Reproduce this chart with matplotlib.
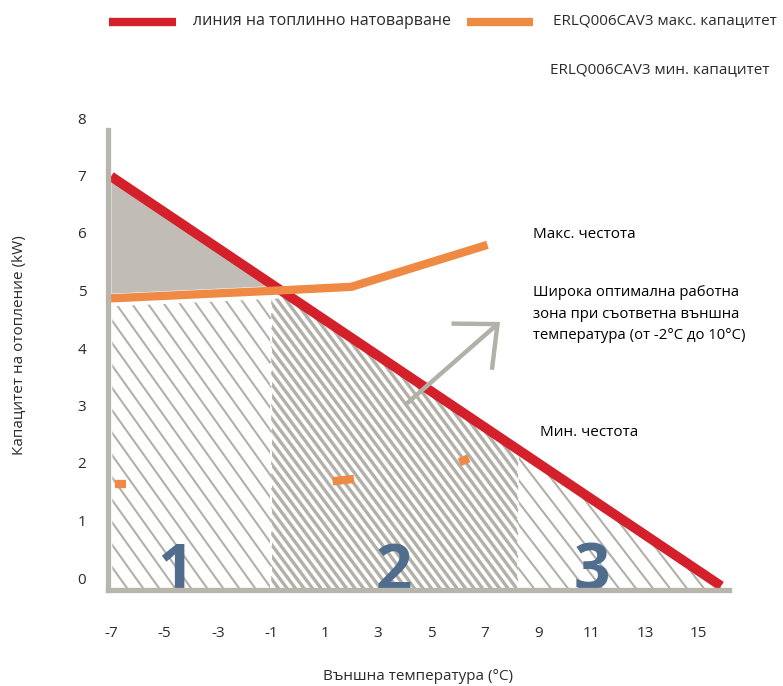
import matplotlib
matplotlib.use("Agg")
import matplotlib.pyplot as plt
import numpy as np
from matplotlib.patches import FancyArrowPatch, Polygon
from matplotlib.lines import Line2D
from matplotlib.collections import LineCollection

plt.rcParams['font.family'] = ['Open Sans', 'DejaVu Sans']

# ---- data ----
load_x = [-7, 15.85]
load_y = [7.02, -0.1]
max_x = [-7, -1, 2, 7.1]
max_y = [4.9, 5.03, 5.1, 5.83]
min_segments_x = [[-6.85, -6.45], [1.3, 2.1], [6.05, 6.4]]
min_segments_y = [[1.68, 1.68], [1.72, 1.76], [2.05, 2.12]]
zone_bounds = [-7, -1, 8.25, 16]
zone_labels = ["1", "2", "3"]
zone_label_x = [-4.6, 3.6, 11.0]
xticks = [-7, -5, -3, -1, 1, 3, 5, 7, 9, 11, 13, 15]
yticks = [0, 1, 2, 3, 4, 5, 6, 7, 8]
legend_labels = ["линия на топлинно натоварване",
                 "ERLQ006CAV3 макс. капацитет",
                 "ERLQ006CAV3 мин. капацитет"]
xlabel = "Външна температура (°C)"
ylabel = "Капацитет на отопление (kW)"
ann_max = "Макс. честота"
ann_min = "Мин. честота"
ann_zone = "Широка оптимална работна\nзона при съответна външна\nтемпература (от -2°C до 10°C)"

RED = "#d4202a"
ORANGE = "#ef8a44"
GRAY = "#b8b5ad"
FILLGRAY = "#c1bcb5"
HATCH = "#b3b0a7"
BLUE = "#506d8e"
TXT = "#2b2b2b"

W, H = 783, 686
PX_X, PX_Y = 26.7, 57.5
fig = plt.figure(figsize=(W / 100, H / 100), dpi=100)
x0, x1 = -7.1, 16.3
y0, y1 = -0.17, 8.0
left_px = 111 - (-7 - x0) * PX_X
right_px = 111 + (x1 + 7) * PX_X
ax = fig.add_axes([left_px / W, 1 - 590 / H, (right_px - left_px) / W, (590 - 120) / H])
ax.set_xlim(x0, x1)
ax.set_ylim(y0, y1)

def red_at(x):
    return np.interp(x, load_x, load_y)

def max_at(x):
    return np.interp(x, max_x, max_y)

# gray triangle between load line and max capacity
xs = np.linspace(-7, -1, 200)
top = red_at(xs)
bot = max_at(xs) + 0.09
mask = top > bot
ax.fill_between(xs[mask], bot[mask], top[mask], color=FILLGRAY, lw=0, zorder=1)

def hatch_region(xs, tops, spacing_px, lw, slope_px=1.4):
    verts = [(xs[0], y0)] + list(zip(xs, tops)) + [(xs[-1], y0)]
    poly = Polygon(verts, closed=True, facecolor="none", edgecolor="none")
    ax.add_patch(poly)
    slope = -slope_px * PX_X / PX_Y  # data units
    step = spacing_px / PX_X
    ymax = max(tops) + 0.5
    span = (ymax - y0) / (-slope)
    starts = np.arange(xs[0] - span - step, xs[-1] + step, step)
    segs = []
    for s in starts:
        segs.append([(s, ymax), (s + (y0 - ymax) / slope, y0)])
    lc = LineCollection(segs, colors=HATCH, linewidths=lw, zorder=1)
    lc.set_clip_path(poly)
    ax.add_collection(lc)

xs1 = np.linspace(zone_bounds[0] + 0.05, zone_bounds[1], 50)
hatch_region(xs1, np.minimum(max_at(xs1) - 0.14, red_at(xs1)), 16, 1.5)
xs2 = np.linspace(zone_bounds[1], zone_bounds[2], 100)
hatch_region(xs2, np.minimum(max_at(xs2) - 0.14, red_at(xs2)), 8.5, 2.4, 1.35)
xs3 = np.linspace(zone_bounds[2], load_x[1], 100)
hatch_region(xs3, red_at(xs3), 17, 1.5, 1.3)

# zone separators
ax.plot([zone_bounds[1]] * 2, [y0, max_at(zone_bounds[1]) - 0.14], color="white", lw=1.5, ls=(0, (4, 3)), zorder=2)
ax.plot([zone_bounds[2]] * 2, [y0, red_at(zone_bounds[2])], color="white", lw=1.2, ls=(0, (4, 3)), zorder=2)

# lines
ax.plot(load_x, load_y, color=RED, lw=7, solid_capstyle="butt", zorder=4)
ax.plot(max_x, max_y, color=ORANGE, lw=6, solid_capstyle="butt", solid_joinstyle="miter", zorder=5)
for sx, sy in zip(min_segments_x, min_segments_y):
    ax.plot(sx, sy, color=ORANGE, lw=6, solid_capstyle="butt", zorder=5)

# zone numbers
for lab, lx in zip(zone_labels, zone_label_x):
    ax.text(lx, -0.17, lab, color=BLUE, fontsize=46, fontweight="bold", ha="center", va="baseline", zorder=6)

# arrow
arr = FancyArrowPatch((4.0, 3.04), (7.57, 4.49), arrowstyle="->,head_length=0.95,head_width=0.85",
                      mutation_scale=26, color="#b3b0a8", lw=3.2, zorder=7, shrinkA=0, shrinkB=0,
                      joinstyle="miter", capstyle="butt")
ax.add_patch(arr)

# spines
for s in ["top", "right"]:
    ax.spines[s].set_visible(False)
for s in ["left", "bottom"]:
    ax.spines[s].set_color(GRAY)
    ax.spines[s].set_linewidth(3.8)
    ax.spines[s].set_zorder(8)
ax.spines["left"].set_bounds(y0, 7.83)
ax.spines["bottom"].set_bounds(x0, 16.15)

ax.set_xticks(xticks)
ax.set_xticklabels([str(t) for t in xticks])
ax.set_yticks([])
ax.tick_params(axis="x", length=0, pad=26, labelsize=11, labelcolor=TXT)
for t in yticks:
    ypx = 580 - PX_Y * t
    fig.text(82 / W, 1 - ypx / H, str(t), ha="center", va="center", fontsize=11, color=TXT)

fig.text(20 / W, 1 - 345 / H, ylabel, rotation=90, ha="center", va="center", fontsize=11, color=TXT)
fig.text(418 / W, 1 - 676 / H, xlabel, ha="center", va="center", fontsize=11, color=TXT)

# legend
fig.add_artist(Line2D([109 / W, 176 / W], [1 - 22 / H] * 2, color=RED, lw=6, solid_capstyle="butt"))
fig.text(193 / W, 1 - 21 / H, legend_labels[0], ha="left", va="center", fontsize=11.5, color=TXT)
fig.add_artist(Line2D([467 / W, 533 / W], [1 - 22 / H] * 2, color=ORANGE, lw=6, solid_capstyle="butt"))
fig.text(553 / W, 1 - 21 / H, legend_labels[1], ha="left", va="center", fontsize=11, color=TXT)
fig.text(550 / W, 1 - 70 / H, legend_labels[2], ha="left", va="center", fontsize=11, color=TXT)

# annotations
fig.text(533 / W, 1 - 234 / H, ann_max, ha="left", va="center", fontsize=11, color="black")
fig.text(533 / W, 1 - 314 / H, ann_zone, ha="left", va="center", fontsize=10.7, color="black", linespacing=1.55)
fig.text(540 / W, 1 - 432 / H, ann_min, ha="left", va="center", fontsize=11, color="black")

fig.savefig("out.png", dpi=100)
